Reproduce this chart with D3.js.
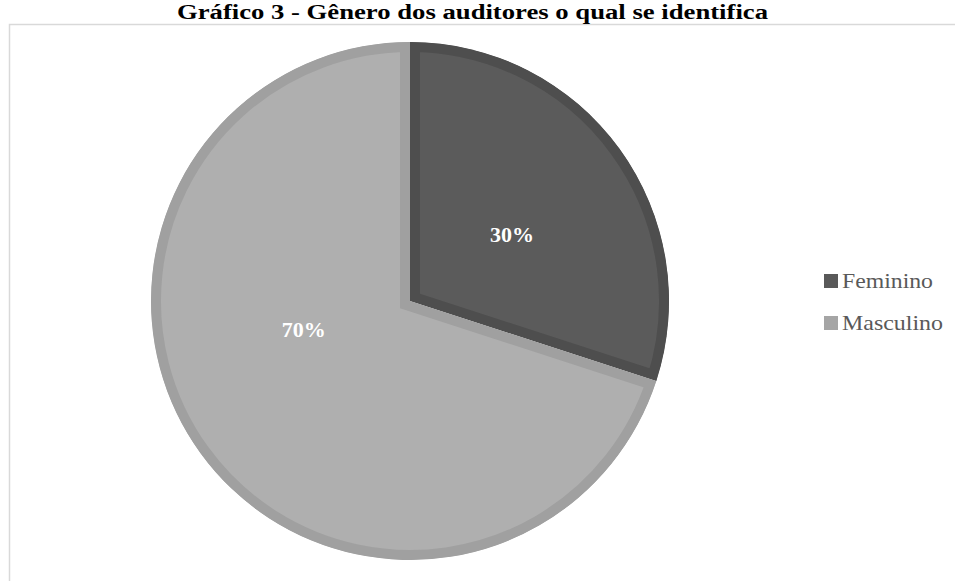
<!DOCTYPE html>
<html>
<head>
<meta charset="utf-8">
<script src="https://cdn.jsdelivr.net/npm/d3@7"></script>
<style>
  html, body { margin: 0; padding: 0; background: #ffffff; }
  svg { display: block; }
</style>
</head>
<body>
<svg id="chart" width="955" height="581"></svg>
<script>
// Gender distribution of the auditors
const categories = ["Feminino", "Masculino"];
const values = [30, 70];
const fills = ["#5b5b5b", "#afafaf"];
const borders = ["#4e4e4e", "#a0a0a0"];
const swatches = ["#595959", "#a5a5a5"];
const titleText = "Gráfico 3 - Gênero dos auditores o qual se identifica";

const svg = d3.select("#chart");
const W = 955, H = 581;
const serif = "'Liberation Serif', 'Times New Roman', serif";

// chart frame
svg.append("rect")
  .attr("x", 9.5).attr("y", 24.5)
  .attr("width", W + 10).attr("height", H + 10)
  .attr("fill", "#ffffff")
  .attr("stroke", "#d9d9d9").attr("stroke-width", 1.5);

// title
svg.append("text")
  .attr("x", 177).attr("y", 19)
  .attr("textLength", 591)
  .attr("lengthAdjust", "spacingAndGlyphs")
  .attr("font-family", serif)
  .attr("font-weight", "bold")
  .attr("font-size", 20)
  .attr("fill", "#000000")
  .text(titleText);

const cx = 410, cy = 301, R = 259;
const pie = d3.pie().sort(null).value(d => d)(values);
const arc = d3.arc().innerRadius(0).outerRadius(R);
const defs = svg.append("defs");

// slices, each with an inner border band (stroke clipped to the slice)
pie.forEach((p, i) => {
  const id = "slice-clip-" + i;
  defs.append("clipPath").attr("id", id)
    .append("path")
    .attr("transform", `translate(${cx},${cy})`)
    .attr("d", arc(p));
  svg.append("g").attr("clip-path", `url(#${id})`)
    .append("path")
    .attr("transform", `translate(${cx},${cy})`)
    .attr("d", arc(p))
    .attr("fill", fills[i])
    .attr("stroke", borders[i])
    .attr("stroke-width", 20)
    .attr("stroke-linejoin", "miter");
});

// percentage labels (radius fraction and angle shift per slice)
const labelPlace = [{ r: 0.47, shift: 3 }, { r: 0.425, shift: 21 }];
const total = d3.sum(values);
const labels = svg.append("g").attr("transform", `translate(${cx},${cy})`);
pie.forEach((p, i) => {
  const a = (p.startAngle + p.endAngle) / 2 + labelPlace[i].shift * Math.PI / 180;
  const rr = R * labelPlace[i].r;
  labels.append("text")
    .attr("x", rr * Math.sin(a)).attr("y", -rr * Math.cos(a))
    .attr("dy", "0.35em")
    .attr("text-anchor", "middle")
    .attr("font-family", serif)
    .attr("font-weight", "bold")
    .attr("font-size", 22)
    .attr("fill", "#ffffff")
    .text(Math.round(values[i] / total * 100) + "%");
});

// legend
const legendWidths = [91, 101];
const leg = svg.append("g").attr("transform", "translate(824,274)");
categories.forEach((c, i) => {
  const row = leg.append("g").attr("transform", `translate(0,${i * 42})`);
  row.append("rect")
    .attr("x", 0).attr("y", 0)
    .attr("width", 14).attr("height", 14)
    .attr("fill", swatches[i]);
  row.append("text")
    .attr("x", 18).attr("y", 14)
    .attr("textLength", legendWidths[i])
    .attr("lengthAdjust", "spacingAndGlyphs")
    .attr("font-family", serif)
    .attr("font-size", 21)
    .attr("fill", "#595959")
    .text(c);
});
</script>
</body>
</html>
